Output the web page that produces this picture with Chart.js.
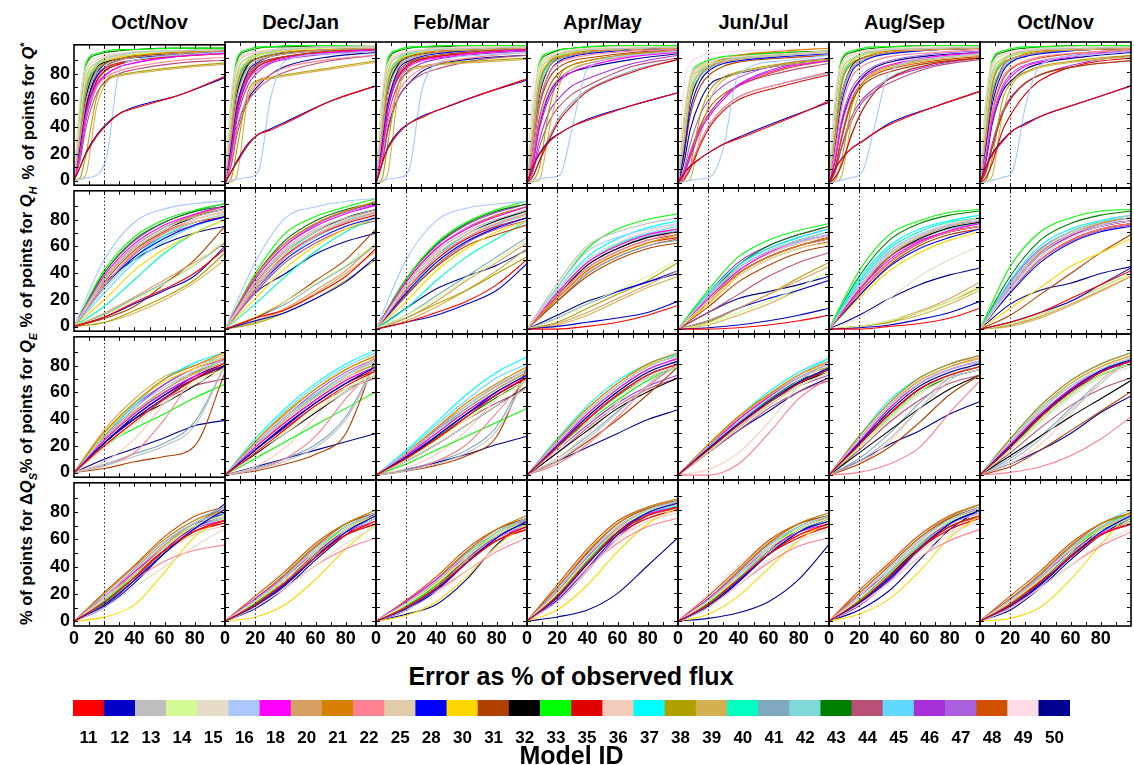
<!DOCTYPE html>
<html>
<head>
<meta charset="utf-8">
<title>Model error distributions</title>
<script src="https://cdn.jsdelivr.net/npm/chart.js@4.4.1/dist/chart.umd.min.js"></script>
<style>
  body { margin: 0; width: 1134px; height: 765px; background: #fff; position: relative; overflow: hidden;
         font-family: "Liberation Sans", Arial, sans-serif; color: #000; }
  canvas { position: absolute; }
  .season { position: absolute; top: 11px; width: 151px; text-align: center; font-weight: bold; font-size: 20px; }
  .y-title { position: absolute; left: 28px; font-weight: bold; font-size: 16.5px; white-space: nowrap;
             transform: translate(-50%, -50%) rotate(-90deg); }
  .y-title sub, .y-title sup { font-size: 11px; }
  .x-title { position: absolute; left: 0; width: 1142px; top: 662px; text-align: center; font-size: 25px; font-weight: bold; }
</style>
</head>
<body>
<script>
const models = [11, 12, 13, 14, 15, 16, 18, 20, 21, 22, 25, 28, 30, 31, 32, 33,
                35, 36, 37, 38, 39, 40, 41, 42, 43, 44, 45, 46, 47, 48, 49, 50];
const modelColors = ["#ff0000", "#0000c8", "#bebebe", "#d4fa96", "#e6dcc8", "#a8c8ff", "#ff00ff", "#d8a060",
                     "#d88000", "#ff8090", "#e0cca8", "#0000ff", "#ffd700", "#b04000", "#000000", "#00ff00",
                     "#e00000", "#f5ccbc", "#00ffff", "#b0a000", "#d4b050", "#00ffc0", "#80a8c0", "#80d8d8",
                     "#008000", "#b85078", "#60d8ff", "#a830d8", "#a860e0", "#d05000", "#ffdce8", "#000090"];
const seasons = ["Oct/Nov", "Dec/Jan", "Feb/Mar", "Apr/May", "Jun/Jul", "Aug/Sep", "Oct/Nov"];
const xTickValues = [0, 20, 40, 60, 80];
const yTickValues = [0, 20, 40, 60, 80];
const errorMarker = 20;

// error thresholds (% of observed flux) the curves are sampled at
const qStarErrors = [0, 4, 8, 15, 22, 30, 40, 70, 100];
const fluxErrors = [0, 20, 40, 60, 80, 100];

// % of points below each threshold, one block per season, one row per model (same order as models)
const qStarPct = [
  [ // Oct/Nov
    [10,20,33,42,50,54,64,78],[10,21,34,43,50,55,64,77],[40,75,88,92,94,96,97,98],[45,78,88,92,94,95,97,98],
    [60,85,92,94,95,96,97,98],[1,2,4,20,82,90,94,96],[20,50,72,80,85,88,93,95],[30,60,80,86,90,92,95,97],
    [35,68,84,88,91,93,96,97],[20,48,70,78,82,85,90,92],[55,82,90,93,95,96,97,98],[25,55,78,86,90,92,95,97],
    [35,72,86,90,92,94,96,98],[25,55,77,85,88,90,94,96],[30,62,84,89,91,93,95,97],[50,88,95,97,98,98,99,99],
    [22,50,74,83,87,90,93,95],[45,78,88,91,93,95,97,98],[30,65,85,90,93,95,97,98],[2,20,62,76,79,81,85,88],
    [1,5,55,74,78,80,84,87],[32,68,86,91,93,95,97,98],[28,60,82,88,91,93,96,97],[30,64,84,89,92,94,96,97],
    [48,86,94,96,97,98,99,99],[15,40,65,75,80,83,88,90],[35,70,87,91,93,95,97,98],[18,45,70,80,85,88,93,95],
    [22,52,75,84,88,90,94,96],[20,50,74,83,87,90,94,96],[62,86,92,94,95,96,97,98],[25,55,80,88,91,92,94,96]
  ],
  [ // Dec/Jan
    [8,15,27,35,38,43,59,70],[8,16,28,35,39,44,59,70],[42,78,90,93,95,96,98,98],[48,80,90,93,95,96,97,98],
    [62,86,93,95,96,97,98,99],[2,3,4,8,60,88,93,95],[22,52,74,82,87,90,94,96],[32,62,82,88,91,93,96,97],
    [38,70,86,90,92,94,96,97],[15,40,62,72,78,83,89,92],[56,84,92,94,95,96,98,98],[26,56,80,87,91,93,96,97],
    [36,74,88,92,94,95,97,98],[26,56,78,86,89,91,95,96],[32,64,85,90,92,94,96,97],[55,90,96,98,98,99,99,99],
    [22,50,74,84,88,91,94,96],[46,80,90,93,95,96,97,98],[32,68,87,92,94,96,97,98],[3,25,65,74,76,78,83,88],
    [1,6,60,73,75,77,82,87],[34,70,88,92,94,96,97,98],[30,62,84,89,92,94,96,97],[32,66,86,90,93,95,96,97],
    [52,88,95,97,98,98,99,99],[12,35,58,68,75,80,88,92],[36,72,88,92,94,96,97,98],[18,46,70,80,86,89,93,95],
    [24,54,77,85,89,91,94,96],[22,52,76,84,88,91,95,96],[64,88,93,95,96,97,98,98],[15,40,60,70,78,84,91,94]
  ],
  [ // Feb/Mar
    [14,25,36,43,47,52,64,75],[14,26,37,43,48,52,64,74],[44,80,91,94,95,96,97,98],[48,82,91,94,95,96,97,98],
    [62,87,93,95,96,97,98,98],[2,3,4,10,65,86,92,94],[24,55,76,84,88,90,94,96],[34,65,84,89,92,94,96,97],
    [38,72,87,91,93,95,96,97],[18,44,66,76,82,86,91,94],[58,85,92,94,96,97,98,98],[28,58,82,88,91,93,96,97],
    [38,76,89,92,94,95,97,98],[28,58,80,87,90,92,95,96],[34,66,86,91,93,94,96,97],[56,90,96,98,98,99,99,99],
    [24,54,77,85,89,91,94,96],[48,82,91,94,95,96,97,98],[34,70,88,92,94,96,97,98],[3,30,72,82,84,86,88,90],
    [1,8,66,80,83,85,87,89],[36,72,89,93,95,96,97,98],[30,64,85,90,92,94,96,97],[34,68,87,91,93,95,96,97],
    [54,88,95,97,98,98,99,99],[14,38,62,72,78,82,89,92],[38,74,89,93,95,96,97,98],[20,48,72,81,86,89,93,95],
    [26,56,78,86,89,91,94,96],[24,54,78,86,89,91,95,96],[66,88,93,95,96,97,98,98],[15,40,62,72,80,85,90,92]
  ],
  [ // Apr/May
    [12,20,30,36,41,45,56,65],[12,21,31,36,41,46,56,65],[40,76,89,93,95,96,97,98],[44,80,90,93,95,96,97,98],
    [58,84,92,94,96,97,98,98],[2,3,4,6,40,82,92,95],[14,38,62,74,80,84,91,94],[30,64,84,90,92,94,96,97],
    [36,70,87,91,93,95,97,98],[24,56,80,87,90,92,95,96],[52,82,91,94,95,96,97,98],[26,56,80,88,91,93,96,97],
    [34,72,88,92,94,95,97,98],[24,54,76,84,88,90,94,96],[28,62,84,90,92,94,96,97],[48,86,94,96,97,98,99,99],
    [5,15,32,46,56,66,80,89],[50,80,90,93,95,96,97,98],[30,66,86,91,94,95,97,98],[2,10,55,78,85,88,93,95],
    [1,2,40,72,82,86,92,94],[32,68,87,92,94,95,97,98],[5,16,34,48,58,67,81,89],[28,62,84,89,92,94,96,97],
    [46,84,93,96,97,98,99,99],[8,25,45,56,64,70,84,90],[34,70,88,92,94,95,97,98],[10,30,52,62,70,75,86,92],
    [16,42,66,76,82,86,92,95],[18,46,70,80,85,88,93,95],[70,88,93,95,96,97,98,98],[15,40,65,75,80,83,89,93]
  ],
  [ // Jun/Jul
    [7,12,18,23,28,32,45,59],[7,12,18,23,28,33,46,58],[34,66,80,85,88,90,92,94],[38,70,82,86,88,90,92,94],
    [50,76,85,88,90,91,93,95],[1,2,3,5,25,78,88,92],[6,18,38,50,60,70,83,88],[28,60,78,84,87,89,92,94],
    [40,70,82,86,89,92,95,97],[4,12,30,44,54,62,72,80],[46,74,84,88,90,91,93,95],[22,52,74,82,86,88,91,93],
    [30,64,80,85,88,90,92,94],[20,48,70,79,84,87,90,92],[26,58,78,84,88,90,93,95],[40,76,86,89,91,92,94,95],
    [3,10,28,42,52,60,70,78],[44,72,83,87,89,91,93,95],[28,62,80,85,88,90,92,94],[2,12,50,68,76,80,86,89],
    [1,3,35,62,74,79,85,88],[30,64,81,86,89,91,93,95],[4,12,30,44,54,62,72,79],[26,58,77,83,87,89,92,94],
    [38,74,85,88,90,92,94,95],[6,20,40,52,62,70,80,86],[30,64,80,85,88,90,92,94],[7,20,40,52,62,71,84,88],
    [10,28,50,62,70,76,86,90],[8,22,42,56,64,70,82,88],[70,86,91,93,94,95,96,97],[15,38,60,72,76,79,85,88]
  ],
  [ // Aug/Sep
    [10,17,25,30,36,42,55,66],[10,17,25,30,36,43,55,66],[42,78,89,93,95,96,97,98],[46,80,90,93,95,96,97,98],
    [60,85,92,94,96,97,98,98],[1,2,4,8,40,80,90,93],[16,40,64,75,81,85,91,94],[30,62,83,89,92,94,96,97],
    [36,70,86,90,93,95,96,97],[22,52,76,84,88,91,94,96],[56,84,92,94,95,96,97,98],[26,56,80,87,91,93,96,97],
    [36,74,88,92,94,95,97,98],[10,30,58,70,76,80,87,90],[30,62,84,90,92,94,96,97],[52,88,95,97,98,98,99,99],
    [4,12,35,52,65,75,86,90],[46,80,90,93,95,96,97,98],[32,68,87,92,94,95,97,98],[2,15,55,72,80,84,90,93],
    [1,4,45,70,79,83,89,92],[34,70,88,92,94,96,97,98],[28,60,82,88,91,93,96,97],[4,13,36,53,66,76,86,90],
    [50,87,94,96,97,98,99,99],[8,24,45,58,66,72,84,89],[36,72,88,92,94,96,97,98],[8,25,48,60,68,75,85,90],
    [18,44,68,78,84,88,93,95],[11,32,60,72,78,82,88,91],[64,87,93,95,96,97,98,98],[16,42,65,76,83,87,92,94]
  ],
  [ // Oct/Nov
    [12,20,30,38,42,48,59,70],[12,21,31,38,43,48,59,70],[42,78,89,93,95,96,97,98],[46,80,90,93,95,96,97,98],
    [62,86,92,94,96,97,98,98],[1,2,4,10,55,85,92,95],[18,44,68,78,84,87,92,95],[32,64,84,90,92,94,96,97],
    [36,70,86,90,93,95,96,97],[22,52,76,84,88,91,94,96],[56,84,92,94,95,96,97,98],[26,56,80,88,91,93,96,97],
    [36,74,88,92,94,95,97,98],[8,25,50,63,72,78,85,88],[30,62,84,90,92,94,96,97],[52,88,95,97,98,98,99,99],
    [4,14,38,52,64,74,86,90],[46,80,90,93,95,96,97,98],[32,68,87,92,94,95,97,98],[2,18,60,74,80,84,89,92],
    [1,5,50,72,79,83,88,91],[34,70,88,92,94,96,97,98],[28,60,82,88,91,93,96,97],[30,64,84,89,92,94,96,97],
    [50,87,94,96,97,98,99,99],[9,26,50,63,72,78,85,88],[36,72,88,92,94,96,97,98],[10,28,52,64,72,78,87,92],
    [20,46,70,80,85,88,93,95],[20,50,74,83,87,90,94,96],[64,87,93,95,96,97,98,98],[16,42,66,75,82,86,91,94]
  ]
];

const qHPct = [
  [ // Oct/Nov
    [7,18,28,40,58],[7,17,27,38,60],[36,60,74,82,88],[8,20,32,46,65],[34,58,72,80,86],[50,78,88,92,94],
    [38,62,76,84,90],[10,22,35,48,62],[36,60,74,83,90],[30,55,70,80,86],[32,56,70,78,84],[30,52,66,76,82],
    [20,42,58,70,80],[6,15,32,50,75],[34,58,72,82,88],[42,67,80,87,92],[33,56,70,78,82],[35,58,72,80,85],
    [30,52,68,78,84],[3,12,22,35,55],[3,10,20,33,50],[15,35,55,70,80],[9,21,33,46,63],[28,50,66,76,83],
    [40,65,78,86,90],[30,54,68,76,82],[25,48,64,75,82],[40,64,78,86,92],[36,60,74,84,90],[34,57,71,80,86],
    [38,62,76,84,88],[32,50,62,70,75]
  ],
  [ // Dec/Jan
    [8,14,25,38,58],[6,12,22,34,52],[34,58,72,80,86],[9,20,33,46,62],[32,56,70,79,85],[48,80,88,92,94],
    [36,60,74,83,89],[6,15,28,42,62],[38,62,76,85,92],[28,52,67,77,84],[30,54,68,77,83],[28,50,64,74,80],
    [22,44,60,72,80],[8,20,35,50,72],[32,56,70,80,86],[40,69,81,88,94],[30,53,67,76,82],[34,57,71,80,86],
    [30,54,70,80,86],[4,12,22,35,50],[5,14,26,40,56],[18,38,56,70,80],[8,18,32,45,60],[28,52,68,78,84],
    [38,64,78,86,91],[26,48,62,72,78],[26,50,66,76,83],[38,62,76,85,90],[36,60,75,84,89],[33,56,70,79,85],
    [38,64,78,86,90],[26,40,54,63,69]
  ],
  [ // Feb/Mar
    [5,12,20,32,50],[5,10,18,28,47],[32,56,70,79,86],[10,22,36,50,64],[30,54,68,77,84],[50,78,87,90,92],
    [34,58,72,81,88],[8,20,35,48,62],[34,58,72,82,88],[28,52,66,76,83],[30,54,68,76,82],[26,48,63,73,80],
    [20,42,58,70,78],[25,45,60,68,75],[30,54,68,78,85],[36,62,77,86,92],[28,50,65,74,80],[32,56,70,79,85],
    [28,52,68,78,84],[8,18,28,40,52],[6,16,28,42,58],[15,35,52,65,78],[10,24,38,52,66],[26,50,66,76,83],
    [36,61,76,85,90],[24,46,62,72,78],[24,48,64,75,82],[36,60,75,84,90],[34,58,73,82,88],[30,54,68,78,84],
    [36,62,76,85,90],[15,29,38,46,57]
  ],
  [ // Apr/May
    [0,2,5,10,17],[2,5,8,12,20],[33,60,70,76,80],[8,18,28,38,50],[28,50,62,70,75],[30,56,66,72,76],
    [26,48,60,68,72],[4,12,22,32,42],[22,42,54,62,68],[24,44,56,64,70],[26,48,60,68,72],[8,18,27,34,42],
    [22,42,54,62,68],[20,38,50,58,62],[24,46,58,66,70],[30,58,72,79,83],[22,42,54,62,66],[26,48,60,68,72],
    [28,52,65,73,78],[5,15,25,35,48],[3,10,20,30,38],[26,48,61,68,72],[20,40,52,60,64],[26,48,60,67,71],
    [26,48,60,68,72],[24,44,56,64,68],[28,50,62,69,74],[26,48,60,67,70],[24,46,58,66,70],[20,40,52,60,65],
    [28,52,64,71,75],[10,20,27,34,40]
  ],
  [ // Jun/Jul
    [0,1,3,6,10],[1,3,6,10,15],[24,44,56,64,70],[4,12,20,30,42],[20,38,50,58,62],[24,44,56,63,68],
    [22,42,55,63,68],[6,15,25,35,45],[20,40,52,60,66],[20,40,52,60,65],[22,42,54,62,67],[6,15,22,28,35],
    [18,38,50,58,62],[16,34,46,55,60],[20,40,52,60,65],[28,52,64,71,76],[20,40,52,60,66],[22,42,54,62,68],
    [26,46,58,66,72],[5,15,25,37,48],[3,10,18,28,35],[22,44,56,64,70],[20,40,52,60,66],[22,44,56,64,70],
    [24,46,60,68,74],[12,25,38,48,55],[22,42,54,62,68],[26,48,60,68,74],[24,46,58,66,72],[18,38,50,58,63],
    [26,48,60,68,72],[12,22,27,32,38]
  ],
  [ // Aug/Sep
    [0,2,4,8,15],[1,3,7,12,20],[30,54,66,74,80],[2,6,12,20,32],[8,22,38,50,60],[32,56,68,75,78],
    [28,50,63,71,76],[2,6,13,22,34],[28,52,66,74,78],[26,48,62,70,74],[30,54,67,75,80],[24,45,58,66,72],
    [22,42,55,64,70],[24,46,60,68,72],[28,52,65,73,77],[42,68,78,84,86],[26,48,62,70,74],[30,55,68,76,80],
    [36,60,72,78,82],[2,5,12,20,30],[2,5,10,18,28],[34,58,70,77,80],[26,48,62,70,74],[28,52,65,72,76],
    [38,64,76,82,85],[26,48,62,70,74],[30,54,66,73,76],[30,52,64,70,74],[32,56,68,75,78],[26,48,62,70,74],
    [34,58,70,77,82],[10,22,32,39,44]
  ],
  [ // Oct/Nov
    [5,12,22,32,42],[5,12,20,32,44],[32,57,70,77,82],[4,10,20,30,40],[28,52,66,74,78],[30,54,68,75,80],
    [30,54,67,74,78],[3,9,18,28,38],[30,55,68,76,80],[28,50,64,72,76],[30,54,68,76,80],[26,48,62,70,74],
    [15,30,45,55,65],[10,25,40,55,68],[30,54,67,74,78],[45,70,80,85,86],[28,50,64,72,76],[32,56,69,76,80],
    [35,60,72,78,82],[3,10,20,30,40],[2,8,17,27,38],[32,57,70,77,80],[26,50,64,72,76],[28,52,66,74,78],
    [38,64,76,82,85],[28,50,63,71,75],[28,52,66,74,78],[32,56,68,75,78],[34,58,70,77,80],[28,50,64,72,76],
    [34,60,72,79,82],[18,28,33,40,45]
  ]
];

const qEPct = [
  [ // Oct/Nov
    [20,38,55,70,82],[22,40,56,70,80],[5,12,20,35,80],[20,38,55,68,78],[18,36,52,66,76],[26,48,64,76,84],
    [24,44,60,72,80],[25,46,62,74,82],[30,52,70,80,90],[5,15,40,72,86],[24,45,62,74,82],[22,42,58,72,82],
    [28,52,68,78,86],[3,8,12,20,75],[22,40,52,65,80],[20,33,44,56,66],[22,42,58,70,80],[8,25,52,78,90],
    [28,50,70,82,90],[24,45,62,75,84],[32,55,72,80,88],[24,44,62,75,82],[6,14,22,38,80],[24,44,60,72,80],
    [24,44,60,72,82],[22,40,55,65,70],[30,52,70,80,86],[26,48,66,78,85],[27,50,66,78,84],[22,42,58,70,78],
    [20,40,58,72,82],[10,18,26,35,39]
  ],
  [ // Dec/Jan
    [16,33,50,64,75],[18,35,52,66,78],[4,10,20,40,80],[16,32,48,62,74],[14,30,46,60,72],[22,42,58,72,82],
    [20,38,54,68,78],[22,42,58,72,84],[24,44,62,76,86],[4,12,28,55,78],[20,40,56,70,82],[18,36,52,66,78],
    [24,44,62,76,86],[3,8,15,30,85],[15,30,45,60,72],[12,24,36,48,60],[18,36,52,66,76],[6,20,42,68,86],
    [26,48,66,80,90],[20,40,56,70,80],[24,45,62,76,86],[20,40,57,72,82],[5,12,22,42,82],[20,40,56,70,80],
    [18,36,52,66,76],[18,34,50,62,70],[24,46,64,78,88],[22,42,58,72,82],[22,42,60,74,84],[20,38,54,68,78],
    [18,36,54,68,80],[6,12,18,24,30]
  ],
  [ // Feb/Mar
    [12,26,42,58,70],[13,28,44,60,72],[3,8,16,32,72],[11,25,40,55,68],[10,22,36,50,62],[16,32,50,65,76],
    [14,30,46,60,72],[15,32,48,62,74],[16,34,52,66,78],[3,10,22,45,70],[14,30,46,60,72],[12,28,44,58,70],
    [16,34,52,66,78],[3,7,14,28,78],[10,22,36,50,64],[8,18,28,38,48],[12,28,44,58,70],[5,15,32,55,74],
    [18,38,58,74,85],[14,30,46,60,72],[16,34,50,64,76],[14,30,48,62,74],[4,10,18,35,75],[14,30,46,60,72],
    [12,27,42,56,68],[12,26,40,52,62],[17,36,54,70,80],[15,32,48,62,74],[15,33,50,64,76],[14,30,46,60,70],
    [12,28,44,58,70],[4,9,15,22,28]
  ],
  [ // Apr/May
    [20,40,58,72,80],[21,42,60,74,82],[10,26,45,65,82],[20,40,58,72,80],[18,38,56,70,78],[24,46,64,78,86],
    [22,44,62,76,84],[24,46,64,78,86],[25,48,66,80,88],[8,22,42,64,80],[22,44,62,76,84],[20,40,58,72,80],
    [25,48,66,79,86],[10,24,40,58,78],[16,32,48,60,70],[20,38,54,68,78],[20,40,58,72,80],[12,30,52,72,85],
    [26,50,68,80,87],[20,42,60,74,82],[24,46,64,78,86],[22,44,62,76,84],[12,28,46,64,80],[22,44,62,76,84],
    [20,40,57,70,78],[16,34,50,62,70],[26,48,66,80,87],[18,36,52,64,72],[22,44,62,76,84],[20,40,58,72,80],
    [22,44,62,76,84],[10,20,30,40,47]
  ],
  [ // Jun/Jul
    [18,36,52,66,76],[19,37,53,67,77],[16,34,52,68,82],[17,35,51,64,74],[16,34,50,64,74],[20,38,55,70,80],
    [20,40,56,70,80],[21,40,57,72,82],[22,42,58,72,82],[0,8,30,55,70],[20,40,56,70,80],[18,36,52,66,76],
    [22,42,58,72,80],[16,34,50,64,74],[18,36,52,66,74],[18,36,52,66,76],[18,36,52,66,74],[4,16,38,64,82],
    [22,42,60,74,84],[20,40,56,70,78],[22,42,58,72,82],[20,40,56,70,80],[18,36,52,66,78],[20,40,56,70,80],
    [19,38,54,68,76],[16,32,48,60,68],[22,42,58,72,84],[18,36,52,64,72],[20,40,56,70,80],[18,36,52,66,76],
    [20,40,58,74,86],[16,32,46,60,70]
  ],
  [ // Aug/Sep
    [22,44,62,72,78],[23,46,64,74,80],[10,26,48,68,82],[20,42,60,72,78],[20,40,58,70,76],[26,50,66,76,82],
    [24,48,66,76,82],[26,50,68,78,84],[28,52,70,80,86],[2,8,20,45,68],[24,48,66,76,82],[22,44,62,72,78],
    [26,50,68,78,84],[8,20,38,58,72],[16,32,48,62,72],[20,42,60,72,78],[22,44,62,72,78],[8,24,48,72,86],
    [28,54,70,80,86],[22,46,64,74,80],[26,50,68,78,85],[24,48,66,76,82],[12,30,52,70,82],[24,48,66,76,82],
    [20,42,60,70,76],[18,38,54,66,72],[28,52,70,80,86],[20,42,60,70,76],[24,48,66,76,82],[22,44,62,72,78],
    [24,48,66,78,86],[10,22,32,44,53]
  ],
  [ // Oct/Nov
    [20,42,60,74,82],[21,43,61,75,83],[10,26,46,66,84],[18,40,58,72,80],[18,38,56,70,78],[24,48,64,76,84],
    [22,44,62,75,82],[24,48,66,78,86],[26,50,68,80,88],[2,6,14,26,42],[22,46,64,76,84],[20,42,60,74,82],
    [24,48,66,78,86],[6,18,32,46,60],[14,28,42,55,68],[20,40,58,72,80],[20,42,60,74,82],[8,22,44,68,86],
    [26,50,68,80,88],[22,44,62,76,84],[24,48,66,78,86],[22,46,64,76,84],[12,28,48,68,84],[22,46,64,76,84],
    [18,40,58,72,80],[16,34,50,62,70],[26,50,68,80,88],[20,42,60,72,80],[22,46,64,76,84],[20,42,60,72,80],
    [22,44,62,76,86],[8,18,30,45,57]
  ]
];

const dQsPct = [
  [ // Oct/Nov
    [14,32,52,66,74],[12,30,50,68,82],[14,32,52,68,76],[16,34,54,70,78],[10,25,40,55,68],[18,38,58,72,80],
    [18,36,54,68,74],[16,36,56,72,82],[20,40,60,74,82],[12,30,44,52,56],[16,36,55,70,78],[10,28,50,68,80],
    [3,12,36,62,76],[18,38,58,72,80],[14,32,52,70,78],[14,34,56,72,80],[16,34,52,66,72],[14,32,50,64,70],
    [14,32,52,68,76],[12,30,50,66,74],[16,36,56,70,78],[15,34,54,70,78],[18,38,58,72,82],[14,34,54,70,78],
    [13,32,52,68,76],[16,34,52,66,72],[20,40,60,74,84],[12,30,52,70,84],[14,32,52,68,78],[21,41,62,77,84],
    [16,34,52,64,70],[11,30,52,70,86]
  ],
  [ // Dec/Jan
    [12,28,46,62,72],[11,27,46,64,76],[12,28,48,64,74],[14,30,50,66,76],[10,24,40,56,68],[15,32,52,68,78],
    [16,32,50,64,72],[14,30,50,66,76],[16,34,54,70,80],[10,24,40,52,60],[14,30,50,66,76],[10,26,46,64,76],
    [3,12,30,52,70],[16,34,54,70,78],[12,28,48,66,76],[13,30,50,68,78],[13,30,48,62,70],[12,28,46,62,70],
    [13,30,48,64,74],[11,27,46,62,72],[14,32,52,68,76],[13,30,50,66,76],[15,33,53,68,78],[13,30,50,66,76],
    [12,28,48,64,74],[14,30,48,62,70],[16,34,54,70,80],[10,26,46,64,78],[12,28,48,66,76],[18,36,56,70,78],
    [14,30,48,62,70],[9,24,44,62,78]
  ],
  [ // Feb/Mar
    [10,24,42,58,68],[9,23,42,60,72],[10,24,44,60,70],[12,27,46,62,72],[8,20,36,52,64],[13,29,48,64,74],
    [14,30,46,60,68],[12,27,46,62,72],[14,30,50,66,76],[10,22,36,50,60],[12,27,46,62,72],[8,22,42,60,72],
    [4,14,32,54,70],[14,30,50,66,74],[10,24,44,62,72],[11,26,46,64,74],[11,26,44,58,66],[10,24,42,58,66],
    [11,26,44,60,70],[9,23,42,58,68],[12,28,48,64,72],[11,26,46,62,72],[13,29,49,64,74],[11,26,46,62,72],
    [10,24,44,60,70],[12,26,44,58,66],[14,30,50,66,76],[8,22,42,60,74],[10,24,44,62,72],[15,32,52,66,74],
    [12,26,44,58,66],[5,12,30,55,72]
  ],
  [ // Apr/May
    [18,42,64,76,82],[17,41,64,78,85],[18,42,64,78,84],[20,45,66,79,85],[14,36,58,72,80],[22,47,68,80,86],
    [22,46,66,77,82],[20,45,67,80,86],[24,50,70,82,88],[16,38,56,68,74],[20,45,67,80,86],[15,38,62,78,86],
    [8,26,50,70,82],[24,49,70,81,86],[18,42,64,78,85],[19,44,66,80,86],[19,42,62,74,80],[18,40,60,72,78],
    [19,43,64,77,83],[17,41,63,76,82],[21,46,68,80,85],[20,44,66,79,85],[22,47,68,80,86],[19,44,66,79,85],
    [18,42,63,76,83],[20,44,64,76,81],[24,49,70,82,88],[14,36,60,76,86],[18,42,64,78,85],[26,52,72,82,87],
    [20,43,62,74,80],[3,8,20,40,60]
  ],
  [ // Jun/Jul
    [12,30,48,62,70],[11,29,48,64,72],[12,30,50,64,72],[14,32,52,66,74],[10,26,44,58,66],[15,34,54,68,76],
    [16,34,52,64,70],[14,32,52,66,74],[16,36,56,70,78],[10,26,42,54,60],[14,32,52,66,74],[10,28,48,64,74],
    [5,18,38,58,72],[16,36,56,70,76],[12,30,50,66,74],[13,32,52,68,76],[13,30,48,60,68],[12,30,48,62,70],
    [13,31,50,64,72],[11,29,48,62,70],[14,34,54,68,75],[13,32,52,66,74],[15,35,55,68,76],[13,32,52,66,74],
    [12,30,50,64,72],[14,32,50,62,68],[16,36,56,70,78],[10,28,48,64,76],[12,30,50,66,74],[18,38,58,70,76],
    [20,40,58,70,76],[2,6,14,30,55]
  ],
  [ // Aug/Sep
    [14,32,52,68,76],[13,31,52,70,80],[14,34,54,70,78],[16,36,56,72,80],[12,28,46,62,72],[18,38,58,73,82],
    [18,36,56,70,78],[16,36,56,72,82],[20,40,60,75,84],[12,28,46,58,66],[16,36,56,72,80],[12,30,52,70,80],
    [5,16,36,60,76],[20,40,60,74,82],[14,32,54,70,80],[15,34,56,72,82],[15,34,52,66,74],[14,32,50,64,72],
    [15,34,54,70,78],[13,32,52,68,76],[16,36,56,72,80],[15,35,55,71,80],[18,38,58,74,82],[15,35,55,71,80],
    [14,33,53,68,76],[16,35,54,68,75],[20,40,60,75,84],[11,29,51,70,82],[14,33,53,70,80],[22,42,62,76,84],
    [24,44,62,74,80],[8,22,44,66,80]
  ],
  [ // Oct/Nov
    [12,28,46,62,70],[11,27,46,64,76],[12,28,48,64,74],[14,30,50,66,74],[9,24,40,56,66],[15,32,52,68,76],
    [15,32,50,63,70],[13,30,50,66,76],[16,34,54,70,78],[10,24,40,54,64],[14,30,50,66,76],[10,26,46,64,76],
    [2,10,30,55,80],[16,34,54,70,78],[12,28,48,66,74],[13,30,50,68,78],[13,29,47,62,70],[12,28,46,62,70],
    [13,30,48,64,74],[11,27,46,62,72],[14,31,51,67,76],[13,30,50,66,76],[15,33,53,68,78],[13,30,50,66,75],
    [12,28,48,64,74],[14,30,48,62,70],[16,34,54,70,80],[10,26,46,64,78],[12,28,48,66,76],[18,36,56,70,78],
    [14,30,48,62,70],[8,24,44,62,74]
  ]
];

const rowData = [qStarPct, qHPct, qEPct, dQsPct];
const rowErrors = [qStarErrors, fluxErrors, fluxErrors, fluxErrors];
const rowTitles = [
  '% of points for <i>Q</i><sup>*</sup>',
  '% of points for <i>Q</i><sub><i>H</i></sub>',
  '% of points for <i>Q</i><sub><i>E</i></sub>',
  '% of points for \u0394<i>Q</i><sub><i>S</i></sub>'
];

const PANEL_LEFT = 74, PANEL_TOP = 42, PANEL_W = 151, PANEL_H = 146;
const MARGIN = 12, Y_AXIS_W = 74, X_AXIS_H = 30;
const tickFont = { family: "'Liberation Sans', Arial, sans-serif", size: 18, weight: "bold" };

// box, inward ticks and the dotted 20 % line, drawn through the chart's own scales
const panelFrame = {
  id: "panelFrame",
  afterDatasetsDraw(chart) {
    const { ctx, chartArea: a, scales: { x, y } } = chart;
    ctx.save();
    ctx.strokeStyle = "#000";
    ctx.lineWidth = 1;
    ctx.setLineDash([1.2, 2.6]);
    const px = Math.round(x.getPixelForValue(errorMarker)) + 0.5;
    ctx.beginPath();
    ctx.moveTo(px, a.bottom);
    ctx.lineTo(px, a.top);
    ctx.stroke();
    ctx.setLineDash([]);
    ctx.beginPath();
    for (let v = 10; v < 100; v += 10) {
      const tx = Math.round(x.getPixelForValue(v)) + 0.5;
      ctx.moveTo(tx, a.bottom); ctx.lineTo(tx, a.bottom - 4);
      ctx.moveTo(tx, a.top); ctx.lineTo(tx, a.top + 4);
    }
    for (let v = 0; v < 100; v += 10) {
      const ty = Math.round(y.getPixelForValue(v)) + 0.5;
      ctx.moveTo(a.left, ty); ctx.lineTo(a.left + 4, ty);
      ctx.moveTo(a.right, ty); ctx.lineTo(a.right - 4, ty);
    }
    ctx.stroke();
    ctx.lineWidth = 1.6;
    ctx.strokeRect(a.left, a.top, a.width, a.height);
    ctx.restore();
  }
};

function addText(cls, html, style) {
  const el = document.createElement("div");
  el.className = cls;
  el.innerHTML = html;
  Object.assign(el.style, style);
  document.body.appendChild(el);
}

function buildPanel(row, col) {
  const firstCol = col === 0;
  const lastRow = row === rowData.length - 1;
  const padLeft = firstCol ? Y_AXIS_W : MARGIN;
  const padBottom = lastRow ? X_AXIS_H : MARGIN;
  const canvas = document.createElement("canvas");
  const left = PANEL_LEFT + col * PANEL_W - padLeft;
  const top = PANEL_TOP + row * PANEL_H - MARGIN;
  const width = PANEL_W + padLeft + MARGIN;
  const height = PANEL_H + MARGIN + padBottom;
  canvas.width = width;
  canvas.height = height;
  Object.assign(canvas.style, { left: left + "px", top: top + "px", width: width + "px", height: height + "px" });
  document.body.appendChild(canvas);

  const errors = rowErrors[row];
  const datasets = rowData[row][col].map((values, i) => ({
    label: String(models[i]),
    data: [0, ...values].map((v, k) => ({ x: errors[k], y: v })),
    borderColor: modelColors[i],
    borderWidth: 1.1,
    pointRadius: 0,
    cubicInterpolationMode: "monotone",
    fill: false
  }));

  return new Chart(canvas, {
    type: "line",
    data: { datasets },
    plugins: [panelFrame],
    options: {
      responsive: false,
      animation: false,
      events: [],
      layout: {
        padding: { left: firstCol ? 0 : MARGIN, right: MARGIN, top: MARGIN, bottom: lastRow ? 0 : MARGIN }
      },
      plugins: { legend: { display: false }, tooltip: { enabled: false } },
      scales: {
        x: {
          type: "linear",
          min: 0,
          max: 100,
          display: lastRow,
          afterBuildTicks: (s) => { s.ticks = xTickValues.map((v) => ({ value: v })); },
          afterFit: (s) => { if (lastRow) s.height = X_AXIS_H; },
          grid: { display: false, drawTicks: false },
          border: { display: false },
          ticks: { color: "#000", font: tickFont, padding: 2, maxRotation: 0, autoSkip: false }
        },
        y: {
          type: "linear",
          min: -3.5,
          max: 101.5,
          display: firstCol,
          afterBuildTicks: (s) => { s.ticks = yTickValues.map((v) => ({ value: v })); },
          afterFit: (s) => { if (firstCol) s.width = Y_AXIS_W; },
          grid: { display: false, drawTicks: false },
          border: { display: false },
          ticks: { color: "#000", font: tickFont, padding: 4, autoSkip: false }
        }
      }
    }
  });
}

function buildLegend() {
  const canvas = document.createElement("canvas");
  const side = 10, width = 997 + 2 * side, height = 72;
  canvas.width = width;
  canvas.height = height;
  Object.assign(canvas.style, { left: 73 - side + "px", top: "700px", width: width + "px", height: height + "px" });
  document.body.appendChild(canvas);
  return new Chart(canvas, {
    type: "bar",
    data: {
      labels: models.map(String),
      datasets: [{ data: models.map(() => 1), backgroundColor: modelColors, borderWidth: 0,
                   barPercentage: 1, categoryPercentage: 1 }]
    },
    options: {
      responsive: false,
      animation: false,
      events: [],
      layout: { padding: { left: side, right: side, top: 0, bottom: 0 } },
      plugins: { legend: { display: false }, tooltip: { enabled: false } },
      scales: {
        x: {
          grid: { display: false, drawTicks: false },
          border: { display: false },
          afterFit: (s) => { s.height = 56; },
          ticks: { color: "#000", font: { family: tickFont.family, size: 17, weight: "bold" }, padding: 12,
                   autoSkip: false, maxRotation: 0 },
          title: { display: true, text: "Model ID", color: "#000", padding: 0,
                   font: { family: tickFont.family, size: 25, weight: "bold", lineHeight: 1.2 } }
        },
        y: { display: false, min: 0, max: 1 }
      }
    }
  });
}

seasons.forEach((name, col) => {
  addText("season", name, { left: PANEL_LEFT + col * PANEL_W + "px" });
});
rowTitles.forEach((html, row) => {
  addText("y-title", html, { top: PANEL_TOP + row * PANEL_H + PANEL_H / 2 - 4 + "px" });
});
addText("x-title", "Error as % of observed flux", {});

for (let row = 0; row < rowData.length; row++) {
  for (let col = 0; col < seasons.length; col++) {
    buildPanel(row, col);
  }
}
buildLegend();
</script>
</body>
</html>
